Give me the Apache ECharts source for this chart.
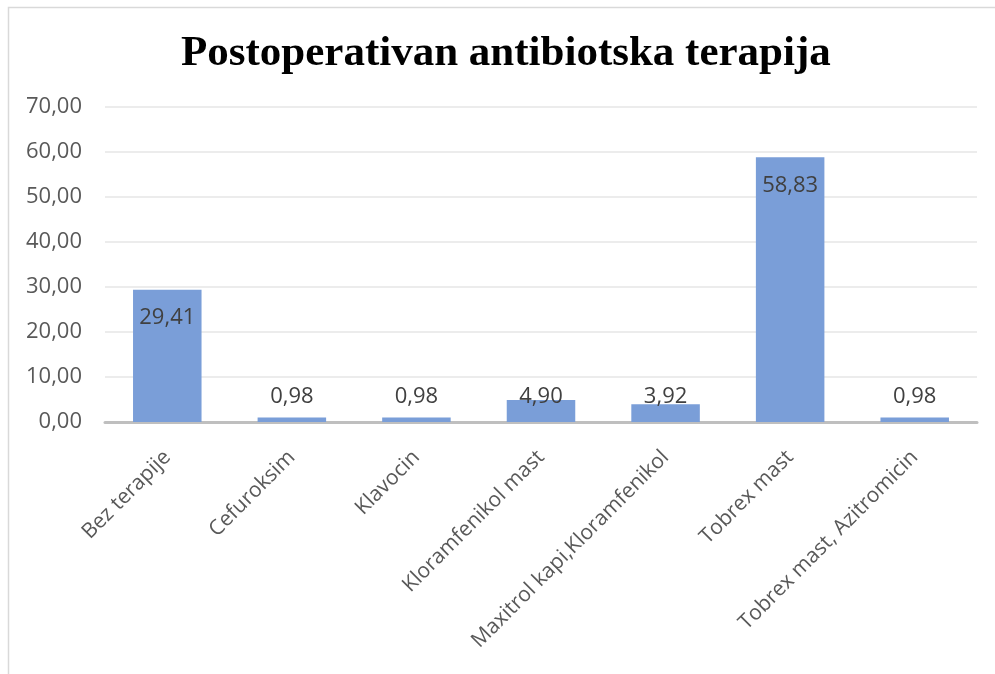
<!DOCTYPE html>
<html>
<head>
<meta charset="utf-8">
<script src="https://cdn.jsdelivr.net/npm/echarts@6/dist/echarts.min.js"></script>
<style>
  html, body { margin: 0; padding: 0; background: #fff; }
  #chart { width: 995px; height: 674px; }
</style>
</head>
<body>
<div id="chart"></div>
<script>
// kategorije i vrijednosti (%)
var categories = [
  "Bez terapije",
  "Cefuroksim",
  "Klavocin",
  "Kloramfenikol mast",
  "Maxitrol kapi,Kloramfenikol",
  "Tobrex mast",
  "Tobrex mast, Azitromicin"
];
var values = [29.41, 0.98, 0.98, 4.90, 3.92, 58.83, 0.98];
var yTicks = [0, 10, 20, 30, 40, 50, 60, 70];

function fmt(v) {
  return v.toFixed(2).replace(".", ",");
}

var chart = echarts.init(document.getElementById("chart"));

chart.setOption({
  animation: false,
  graphic: [
    {
      type: "rect",
      shape: { x: 8.5, y: 7.5, width: 1100, height: 800 },
      style: { fill: null, stroke: "#d9d9d9", lineWidth: 1.5 },
      silent: true
    }
  ],
  title: {
    text: "Postoperativan antibiotska terapija",
    left: 176,
    top: 27,
    textStyle: {
      fontFamily: "Liberation Serif",
      fontWeight: "bold",
      fontSize: 43,
      color: "#000"
    }
  },
  grid: {
    left: 105,
    right: 18,
    top: 107,
    bottom: 252,
    containLabel: false
  },
  xAxis: {
    type: "category",
    data: categories,
    axisLine: { lineStyle: { color: "#bfbfbf", width: 3 } },
    axisTick: { show: false },
    axisLabel: {
      rotate: 45,
      interval: 0,
      margin: 32,
      color: "#595959",
      fontFamily: "Open Sans",
      fontSize: 21
    }
  },
  yAxis: {
    type: "value",
    min: yTicks[0],
    max: yTicks[yTicks.length - 1],
    interval: 10,
    axisLine: { show: false },
    axisTick: { show: false },
    splitLine: { lineStyle: { color: "#ececec", width: 2 } },
    axisLabel: {
      margin: 23,
      color: "#595959",
      fontFamily: "Open Sans",
      fontSize: 22,
      formatter: function (v) { return fmt(v); }
    }
  },
  series: [
    {
      type: "bar",
      data: values.map(function (v) {
        return {
          value: v,
          label: v > 10
            ? { position: "insideTop", distance: 17 }
            : { position: "insideBottom", distance: 14 }
        };
      }),
      barWidth: "55%",
      itemStyle: { color: "#7a9ed8" },
      label: {
        show: true,
        color: "#404040",
        fontFamily: "Open Sans",
        fontSize: 22,
        formatter: function (p) { return fmt(p.value); }
      }
    }
  ]
});
</script>
</body>
</html>
